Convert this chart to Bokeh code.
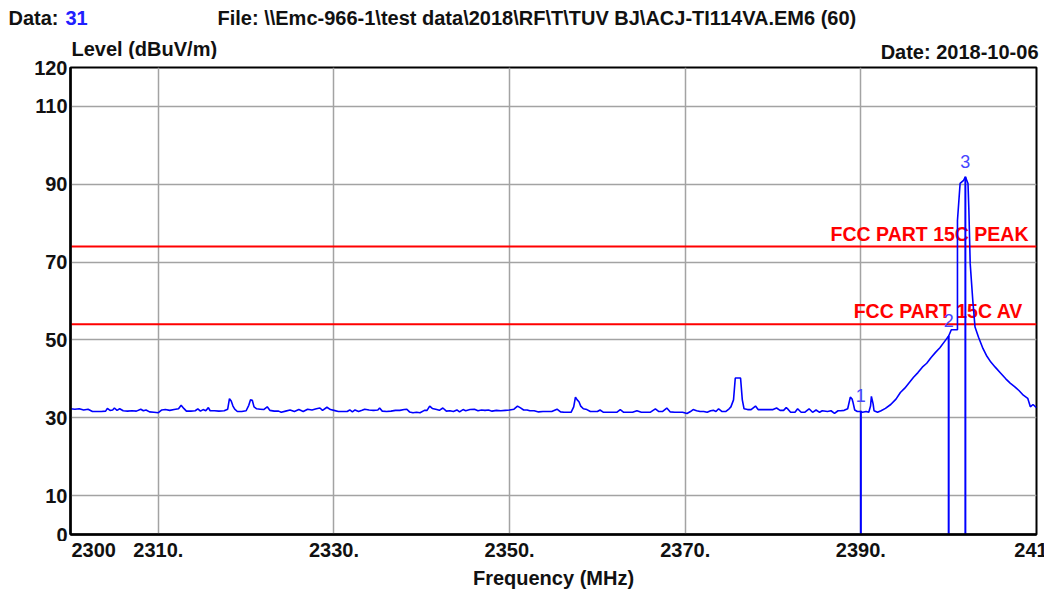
from bokeh.plotting import figure
from bokeh.models import Range1d, FixedTicker
from bokeh.layouts import column
from bokeh.core.properties import value
from bokeh.embed import file_html
from bokeh.resources import INLINE

# ---------------- data ----------------
freq_mhz = [
    2300.0, 2300.5, 2301.0, 2301.5, 2302.0, 2302.5, 2303.0, 2303.5, 2304.0, 2304.2,
    2304.5, 2304.8, 2305.0, 2305.3, 2305.6, 2306.0, 2306.5, 2307.0, 2307.5, 2308.0,
    2308.3, 2308.6, 2309.0, 2309.5, 2310.0, 2310.4, 2310.8, 2311.3, 2311.8, 2312.3,
    2312.6, 2312.9, 2313.2, 2313.7, 2314.2, 2314.5, 2314.8, 2315.1, 2315.4, 2315.7,
    2315.9, 2316.4, 2316.9, 2317.5, 2317.9, 2318.1, 2318.3, 2318.5, 2318.7, 2319.0,
    2319.5, 2320.0, 2320.3, 2320.5, 2320.7, 2320.9, 2321.2, 2321.6, 2322.0, 2322.4,
    2322.7, 2323.2, 2323.7, 2324.0, 2324.5, 2325.0, 2325.5, 2326.0,
    2326.5, 2327.0, 2327.5, 2328.0, 2328.4, 2328.7, 2329.2, 2329.6, 2330.0, 2330.5,
    2331.0, 2331.5, 2331.8, 2332.1, 2332.4, 2332.8, 2333.2, 2333.5, 2334.0, 2334.5,
    2335.0, 2335.2, 2335.5, 2336.0, 2336.5, 2337.0, 2337.5, 2338.0, 2338.3, 2338.6,
    2339.0, 2339.4, 2339.8, 2340.3, 2340.6, 2340.9, 2341.2, 2341.7, 2342.0, 2342.4,
    2342.8, 2343.2, 2343.6, 2344.0, 2344.3, 2344.7, 2345.0, 2345.5, 2346.0, 2346.4,
    2346.8, 2347.2, 2347.6, 2348.0, 2348.5, 2349.0, 2349.5, 2350.0, 2350.5, 2350.9,
    2351.2, 2351.6, 2352.0, 2352.3, 2352.8, 2353.3, 2353.8,
    2354.3, 2354.8, 2355.4, 2355.8, 2356.2, 2356.6, 2357.0, 2357.3, 2357.5, 2357.7,
    2357.9, 2358.1, 2358.4, 2358.8, 2359.2, 2359.6, 2360.0, 2360.3, 2360.7, 2361.2,
    2361.7, 2362.2, 2362.6, 2363.0, 2363.5, 2364.0, 2364.5, 2365.0, 2365.5, 2366.0,
    2366.6, 2367.0, 2367.4, 2367.9, 2368.3, 2368.8, 2369.3, 2369.7, 2370.2, 2370.6,
    2370.9, 2371.3, 2371.7, 2372.1, 2372.5, 2372.9, 2373.2, 2373.5, 2373.8, 2374.2,
    2374.6, 2375.0, 2375.2, 2375.5, 2375.7, 2376.3, 2376.5, 2376.7, 2377.1, 2377.5,
    2378.0, 2378.3, 2378.9, 2379.4, 2380.0, 2380.4, 2380.8, 2381.2, 2381.5, 2381.7,
    2382.0, 2382.5, 2382.8, 2383.2, 2383.6, 2384.1, 2384.5, 2384.9, 2385.3, 2385.6,
    2386.2, 2386.6, 2387.0, 2387.4, 2387.7, 2388.1, 2388.5, 2388.8, 2389.0, 2389.1,
    2389.3, 2389.6, 2389.9, 2390.2, 2390.6, 2390.9, 2391.1, 2391.2, 2391.4, 2391.5,
    2391.9, 2392.3, 2392.8, 2393.4, 2394.0, 2394.5, 2395.0, 2395.5, 2396.0, 2396.5,
    2397.0, 2397.5, 2398.0, 2398.5, 2399.0, 2399.5, 2400.0, 2400.3, 2401.0, 2401.0,
    2401.3, 2401.7, 2401.9, 2402.2, 2402.3, 2402.45, 2402.75, 2403.0, 2403.4, 2403.9,
    2404.3, 2404.8, 2405.3, 2405.9, 2406.5, 2407.0, 2407.5, 2408.0, 2408.5, 2409.0,
    2409.3, 2409.6, 2410.0,
]
level_dbuv = [
    32.3, 32.2, 32.3, 32.0, 32.2, 31.6, 31.6, 31.6, 31.7, 32.4,
    31.9, 32.0, 32.5, 31.9, 32.3, 31.8, 31.7, 31.8, 31.7, 32.2,
    31.8, 32.0, 31.5, 31.4, 31.3, 32.0, 32.1, 31.9, 32.1, 32.3,
    33.2, 32.4, 31.7, 31.7, 31.8, 32.3, 31.7, 32.1, 31.8, 32.6,
    31.8, 31.8, 31.7, 31.8, 32.2, 34.9, 34.3, 33.0, 32.2, 31.6,
    31.6, 31.8, 33.2, 34.6, 34.5, 32.8, 32.3, 32.2, 32.1, 32.8,
    31.9, 31.7, 31.7, 31.4, 31.7, 32.0, 31.6, 32.1,
    31.6, 32.2, 32.0, 32.3, 32.5, 31.9, 32.7, 32.1, 31.9, 31.6,
    31.6, 31.6, 32.0, 31.5, 32.0, 31.6, 31.9, 32.2, 32.0, 31.9,
    32.0, 32.5, 31.7, 31.6, 31.7, 31.9, 31.9, 32.1, 32.2, 31.5,
    31.3, 31.4, 31.3, 31.9, 31.9, 33.0, 32.4, 32.1, 31.9, 32.5,
    31.7, 31.8, 31.6, 32.0, 31.5, 32.1, 31.8, 32.1, 32.2, 31.8,
    32.0, 31.9, 32.0, 31.7, 31.9, 31.8, 31.9, 32.0, 32.2, 33.0,
    32.6, 32.0, 32.0, 31.8, 31.8, 31.5, 31.6,
    31.6, 31.6, 32.2, 31.5, 31.4, 31.4, 31.4, 32.8, 35.3, 34.6,
    34.1, 33.0, 32.3, 32.1, 31.6, 31.6, 31.6, 32.0, 31.4, 31.4,
    31.4, 31.4, 32.1, 31.4, 31.4, 31.4, 31.8, 31.4, 31.4, 31.4,
    32.3, 31.6, 31.6, 32.5, 31.5, 31.4, 31.4, 31.4, 31.1, 31.6,
    32.1, 31.8, 31.6, 31.6, 31.4, 31.8, 31.9, 31.6, 32.3, 31.6,
    31.6, 32.3, 32.8, 34.6, 40.2, 40.2, 34.6, 32.3, 32.1, 32.1,
    33.0, 32.1, 32.1, 32.1, 32.1, 32.5, 31.9, 31.9, 32.6, 32.2,
    31.4, 31.4, 32.3, 31.4, 31.4, 32.3, 31.4, 32.0, 31.4, 31.8,
    31.6, 31.8, 31.1, 31.8, 31.8, 31.9, 32.3, 35.3, 34.8, 34.0,
    32.0, 31.6, 31.6, 31.4, 31.6, 31.4, 33.0, 35.5, 33.5, 31.8,
    31.4, 31.8, 32.4, 33.4, 34.8, 36.5, 37.6, 39.0, 40.4, 41.6,
    43.0, 44.0, 45.5, 46.8, 48.0, 49.5, 51.0, 52.6, 52.6, 80.7,
    90.2, 91.0, 91.9, 90.2, 83.3, 69.6, 60.0, 53.3, 50.7, 47.8,
    46.0, 44.3, 43.0, 41.5, 40.0, 38.9, 38.0, 37.0, 35.8, 35.0,
    32.8, 33.4, 32.6,
]

marker_freq = [2390.0, 2400.0, 2401.9]
marker_level = [31.8, 51.0, 91.9]
marker_names = ["1", "2", "3"]

limit_levels = [74, 54]
limit_names = ["FCC PART 15C PEAK", "FCC PART 15C  AV"]

xtick_values = [2300, 2310, 2330, 2350, 2370, 2390, 2410]
xtick_labels = ["2300", "2310.", "2330.", "2350.", "2370.", "2390.", "2410"]
ytick_values = [0, 10, 30, 50, 70, 90, 110, 120]
xgrid_values = [2310, 2330, 2350, 2370, 2390]
ygrid_values = [10, 30, 50, 70, 90, 110]

header_data_label = "Data:"
header_data_value = "31"
header_file = "File: \\\\Emc-966-1\\test data\\2018\\RF\\T\\TUV BJ\\ACJ-TI114VA.EM6  (60)"
y_title = "Level (dBuV/m)"
date_text = "Date: 2018-10-06"
x_title = "Frequency (MHz)"

# ---------------- layout ----------------
W = 1044
HEAD_H = 59
FL, FR, FT, FB = 70, 8, 8, 7
MAIN_H = 482
FOOT_H = 589 - HEAD_H - MAIN_H
FONT = "Liberation Sans"
FS = "20px"
INK = "#111111"


def bare_figure(height, x_range, y_range):
    f = figure(width=W, height=height, x_range=x_range, y_range=y_range,
               x_axis_type=None, y_axis_type=None,
               output_backend="svg", toolbar_location=None,
               min_border=0, min_border_left=0, min_border_right=0,
               min_border_top=0, min_border_bottom=0)
    f.frame_align = False
    f.title.visible = False
    f.outline_line_color = None
    f.background_fill_color = "white"
    f.border_fill_color = "white"
    return f


def put_text(f, x, y, txt, align="left", color=INK, size=FS, style="bold",
             x_offset=0):
    f.text(x=[x], y=[y], text=[txt], text_align=align, text_baseline="middle",
           x_offset=x_offset, text_color=color, text_font=value(FONT),
           text_font_style=style, text_font_size=size)


# ----- header strip (page pixel coordinates, y downwards) -----
head = bare_figure(HEAD_H, Range1d(0, W), Range1d(HEAD_H, 0))
put_text(head, 8, 17.5, header_data_label)
put_text(head, 65, 17.5, header_data_value, color="#2020ff")
put_text(head, 217, 17.5, header_file)
put_text(head, 71, 48.5, y_title)
put_text(head, 1038, 51, date_text, align="right")

# ----- main plot -----
xr = Range1d(2300, 2410)
yr = Range1d(0, 120)

p = figure(width=W, height=MAIN_H, x_range=xr, y_range=yr,
           output_backend="svg", toolbar_location=None,
           min_border_left=FL, min_border_right=FR,
           min_border_top=FT, min_border_bottom=FB)
p.frame_align = False
p.title.visible = False
p.background_fill_color = "white"
p.border_fill_color = "white"
p.outline_line_color = "black"
p.outline_line_width = 2

p.xgrid.ticker = FixedTicker(ticks=xgrid_values)
p.ygrid.ticker = FixedTicker(ticks=ygrid_values)
for g in (p.xgrid, p.ygrid):
    g.grid_line_color = "#a3a3a3"
    g.grid_line_width = 1.5

p.yaxis.ticker = FixedTicker(ticks=ytick_values)
p.yaxis.major_tick_in = 0
p.yaxis.major_tick_out = 0
p.yaxis.minor_tick_line_color = None
p.yaxis.major_label_standoff = 3
p.yaxis.major_label_text_font = FONT
p.yaxis.major_label_text_font_style = "bold"
p.yaxis.major_label_text_font_size = FS
p.yaxis.major_label_text_color = INK
p.yaxis.axis_line_color = "black"
p.yaxis.axis_line_width = 2.5

p.xaxis.ticker = FixedTicker(ticks=[])
p.xaxis.major_tick_in = 0
p.xaxis.major_tick_out = 0
p.xaxis.minor_tick_line_color = None
p.xaxis.major_label_standoff = 0
p.xaxis.axis_line_color = "black"
p.xaxis.axis_line_width = 2.5

# limit lines and their captions (captions sit under the trace)
for lv in limit_levels:
    p.line(x=[xr.start, xr.end], y=[lv, lv], line_color="#ff0000", line_width=2)
p.text(x=[xr.end] * len(limit_levels), y=limit_levels, text=limit_names,
       text_align="right", text_baseline="middle", x_offset=-8, y_offset=-13,
       text_color="#ff0000", text_font=value(FONT), text_font_style="bold",
       text_font_size="19.5px")

# measured trace
p.line(x=freq_mhz, y=level_dbuv, line_color="#0000ff", line_width=1.6)

# markers
p.segment(x0=marker_freq, y0=[yr.start] * len(marker_freq), x1=marker_freq,
          y1=marker_level, line_color="#0000ff", line_width=2)
p.text(x=marker_freq, y=marker_level, text=marker_names, text_align="center",
       text_baseline="bottom", y_offset=-9, text_color="#4646ff",
       text_font=value(FONT), text_font_size="18px")

# ----- footer strip: x tick labels and x title, on the main plot's x scale -----
px_per_mhz = (W - FL - FR) / (xr.end - xr.start)
foot_xr = Range1d(xr.start - FL / px_per_mhz, xr.end + FR / px_per_mhz)
foot = bare_figure(FOOT_H, foot_xr, Range1d(FOOT_H, 0))
put_text(foot, xtick_values[0], 8, xtick_labels[0], align="left", x_offset=1)
foot.text(x=xtick_values[1:], y=[8] * (len(xtick_values) - 1), text=xtick_labels[1:],
          text_align="center", text_baseline="middle", text_color=INK,
          text_font=value(FONT), text_font_style="bold", text_font_size=FS)
put_text(foot, (xr.start + xr.end) / 2, 36, x_title, align="center")

layout = column(head, p, foot, spacing=0)
open("out.html", "w").write(file_html(layout, INLINE))
